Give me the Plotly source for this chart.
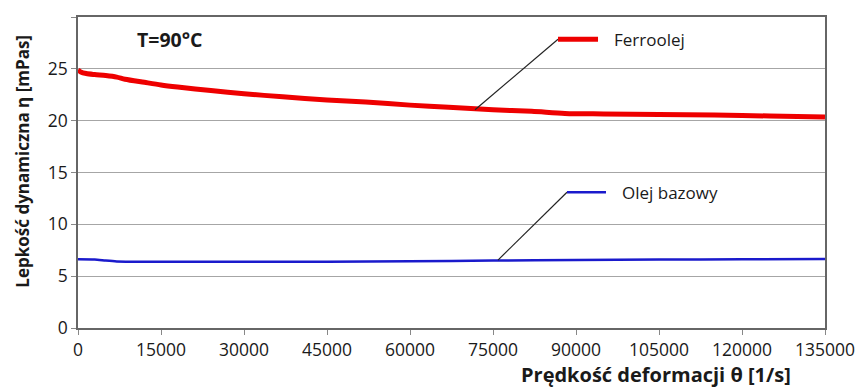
import plotly.graph_objects as go

# Ferroolej series
ferro_x = [0, 500, 1500, 3000, 5000, 7000, 8500, 12000, 15000, 18000, 24000, 30000, 37000,
           45000, 52000, 60000, 67000, 75000, 82000, 88000, 95000, 105000, 115000, 125000, 135000]
ferro_y = [24.9, 24.7, 24.55, 24.45, 24.35, 24.2, 24.0, 23.7, 23.45, 23.25, 22.9, 22.6, 22.3,
           22.0, 21.8, 21.5, 21.3, 21.05, 20.9, 20.7, 20.65, 20.6, 20.55, 20.45, 20.35]

# Olej bazowy series
base_x = [0, 3000, 5000, 7000, 10000, 20000, 30000, 45000, 60000, 75000, 90000, 105000, 120000, 135000]
base_y = [6.62, 6.6, 6.5, 6.42, 6.4, 6.4, 6.38, 6.4, 6.45, 6.5, 6.55, 6.6, 6.62, 6.65]

x_ticks = [0, 15000, 30000, 45000, 60000, 75000, 90000, 105000, 120000, 135000]
y_ticks = [0, 5, 10, 15, 20, 25, 30]

FONT = "Open Sans"
TXT = "#1a1a1a"

fig = go.Figure()
fig.add_trace(go.Scatter(x=ferro_x, y=ferro_y, mode="lines", name="Ferroolej",
                         line=dict(color="#ee0000", width=5, shape="spline", smoothing=0.8)))
fig.add_trace(go.Scatter(x=base_x, y=base_y, mode="lines", name="Olej bazowy",
                         line=dict(color="#1a1acc", width=2.5, shape="spline", smoothing=0.6)))

# leader lines and label swatches
fig.add_shape(type="line", x0=71750, y0=21.05, x1=86750, y1=27.85,
              line=dict(color="#222222", width=1.2))
fig.add_shape(type="line", x0=86750, y0=27.85, x1=93980, y1=27.85,
              line=dict(color="#ee0000", width=5))
fig.add_shape(type="line", x0=75900, y0=6.55, x1=88370, y1=13.1,
              line=dict(color="#222222", width=1.2))
fig.add_shape(type="line", x0=88370, y0=13.1, x1=95420, y1=13.1,
              line=dict(color="#1a1acc", width=2.5))

fig.add_annotation(x=96500, y=27.85, text="Ferroolej", showarrow=False, xanchor="left",
                   yanchor="middle", font=dict(family=FONT, size=17, color=TXT))
fig.add_annotation(x=97950, y=13.1, text="Olej bazowy", showarrow=False, xanchor="left",
                   yanchor="middle", font=dict(family=FONT, size=17, color=TXT))
fig.add_annotation(x=0.0763, y=0.929, xref="paper", yref="paper", text="<b>T=90°C</b>",
                   showarrow=False, xanchor="left", yanchor="middle",
                   font=dict(family=FONT, size=19.5, color=TXT))

# axis titles
fig.add_annotation(x=0.774, y=-0.148, xref="paper", yref="paper",
                   text="<b>Prędkość deformacji θ [1/s]</b>", showarrow=False,
                   xanchor="center", yanchor="middle",
                   font=dict(family=FONT, size=20, color=TXT))
fig.add_annotation(x=-0.0745, y=0.536, xref="paper", yref="paper",
                   text="<b>Lepkość dynamiczna η [mPas]</b>", showarrow=False, textangle=-90,
                   xanchor="center", yanchor="middle",
                   font=dict(family=FONT, size=17, color=TXT))

fig.update_layout(
    width=867, height=388,
    margin=dict(l=70, r=50, t=9, b=68, autoexpand=False),
    paper_bgcolor="white", plot_bgcolor="white",
    showlegend=False,
    font=dict(family=FONT, size=17, color=TXT),
)
fig.update_xaxes(range=[0, 135000], tickvals=x_ticks, ticktext=[str(v) for v in x_ticks],
                 showgrid=False, zeroline=False, showline=True, linecolor="#666666",
                 linewidth=1.5, mirror=True, ticks="outside", ticklen=5, tickcolor="#888888",
                 automargin=False, tickfont=dict(family=FONT, size=17.5, color=TXT))
fig.update_yaxes(range=[0, 30], tickvals=y_ticks, showgrid=True, gridcolor="#a6a6a6",
                 gridwidth=1.2, zeroline=False, showline=True, linecolor="#666666",
                 linewidth=1.5, mirror=True, ticks="outside", ticklen=5, tickcolor="#888888",
                 automargin=False, tickfont=dict(family=FONT, size=17.5, color=TXT))

fig.write_html("out.html")
